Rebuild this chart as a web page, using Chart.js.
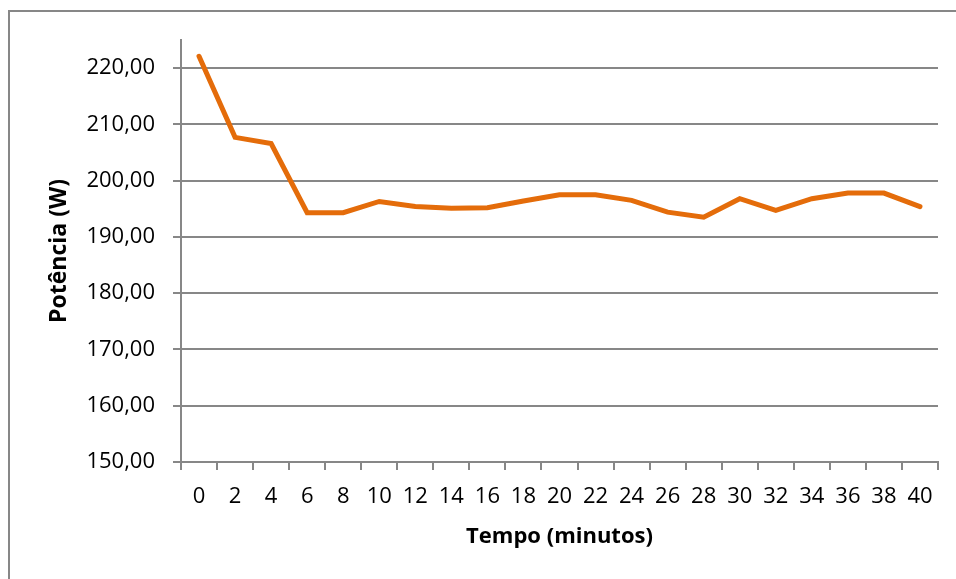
<!DOCTYPE html>
<html>
<head>
<meta charset="utf-8">
<script src="https://cdn.jsdelivr.net/npm/chart.js@4"></script>
<style>
    body { margin: 0; background: #fff; }
    canvas { display: block; }
</style>
</head>
<body>
<canvas id="powerChart" width="956" height="579"></canvas>
<script>
const tempos = ['0', '2', '4', '6', '8', '10', '12', '14', '16', '18', '20', '22', '24', '26', '28', '30', '32', '34', '36', '38', '40']
const potencia = [222.1, 207.7, 206.6, 194.3, 194.3, 196.3, 195.4, 195.1, 195.2, 196.4, 197.5, 197.5, 196.5, 194.4, 193.5, 196.8, 194.7, 196.8, 197.8, 197.8, 195.4]
const yMin = 150
const yMax = 225
const yStep = 10
const xTitle = 'Tempo (minutos)'
const yTitle = 'Potência (W)'

const gray = '#878787'

const outerBorder = {
    id: 'outerBorder',
    beforeDraw(chart) {
        const c = chart.ctx
        c.save()
        c.strokeStyle = gray
        c.lineWidth = 2
        c.strokeRect(9, 11, 990, 600)
        c.restore()
    }
}

document.addEventListener("DOMContentLoaded", function () {
    const ctx = document.getElementById('powerChart').getContext('2d')

    new Chart(ctx, {
        type: 'line',
        data: {
            labels: tempos,
            datasets: [{
                label: 'Potência',
                data: potencia,
                borderColor: '#E46C0A',
                borderWidth: 5,
                borderCapStyle: 'round',
                borderJoinStyle: 'miter',
                pointRadius: 0,
                tension: 0,
                fill: false
            }]
        },
        options: {
            responsive: false,
            animation: false,
            devicePixelRatio: 1,
            layout: {
                padding: { top: 40, right: 18, left: 0, bottom: 0 }
            },
            plugins: {
                legend: { display: false },
                tooltip: { enabled: false }
            },
            scales: {
                x: {
                    type: 'category',
                    offset: true,
                    afterFit: function (scale) { scale.height = 117 },
                    grid: {
                        offset: true,
                        drawOnChartArea: false,
                        drawTicks: true,
                        tickLength: 8,
                        color: gray,
                        lineWidth: 2
                    },
                    border: { display: true, color: gray, width: 2 },
                    ticks: {
                        color: '#000',
                        padding: 14,
                        maxRotation: 0,
                        autoSkip: false,
                        font: { family: 'Open Sans', size: 22 }
                    },
                    title: {
                        display: true,
                        text: xTitle,
                        color: '#000',
                        padding: { top: 0, bottom: 29 },
                        font: { family: 'Open Sans', size: 22, weight: 'bold' }
                    }
                },
                y: {
                    min: yMin,
                    max: yMax,
                    afterFit: function (scale) { scale.width = 181 },
                    afterBuildTicks: function (scale) {
                        scale.ticks = scale.ticks.filter(t => t.value % yStep === 0)
                    },
                    grid: {
                        color: gray,
                        lineWidth: 2,
                        tickLength: 8
                    },
                    border: { display: true, color: gray, width: 2 },
                    ticks: {
                        stepSize: yStep,
                        color: '#000',
                        padding: 18,
                        font: { family: 'Open Sans', size: 22 },
                        callback: function (value) {
                            return value.toFixed(2).replace('.', ',')
                        }
                    },
                    title: {
                        display: true,
                        text: yTitle,
                        color: '#000',
                        padding: { top: 46, bottom: 0 },
                        font: { family: 'Open Sans', size: 23, weight: 'bold' }
                    }
                }
            }
        },
        plugins: [outerBorder]
    })
})
</script>
</body>
</html>
